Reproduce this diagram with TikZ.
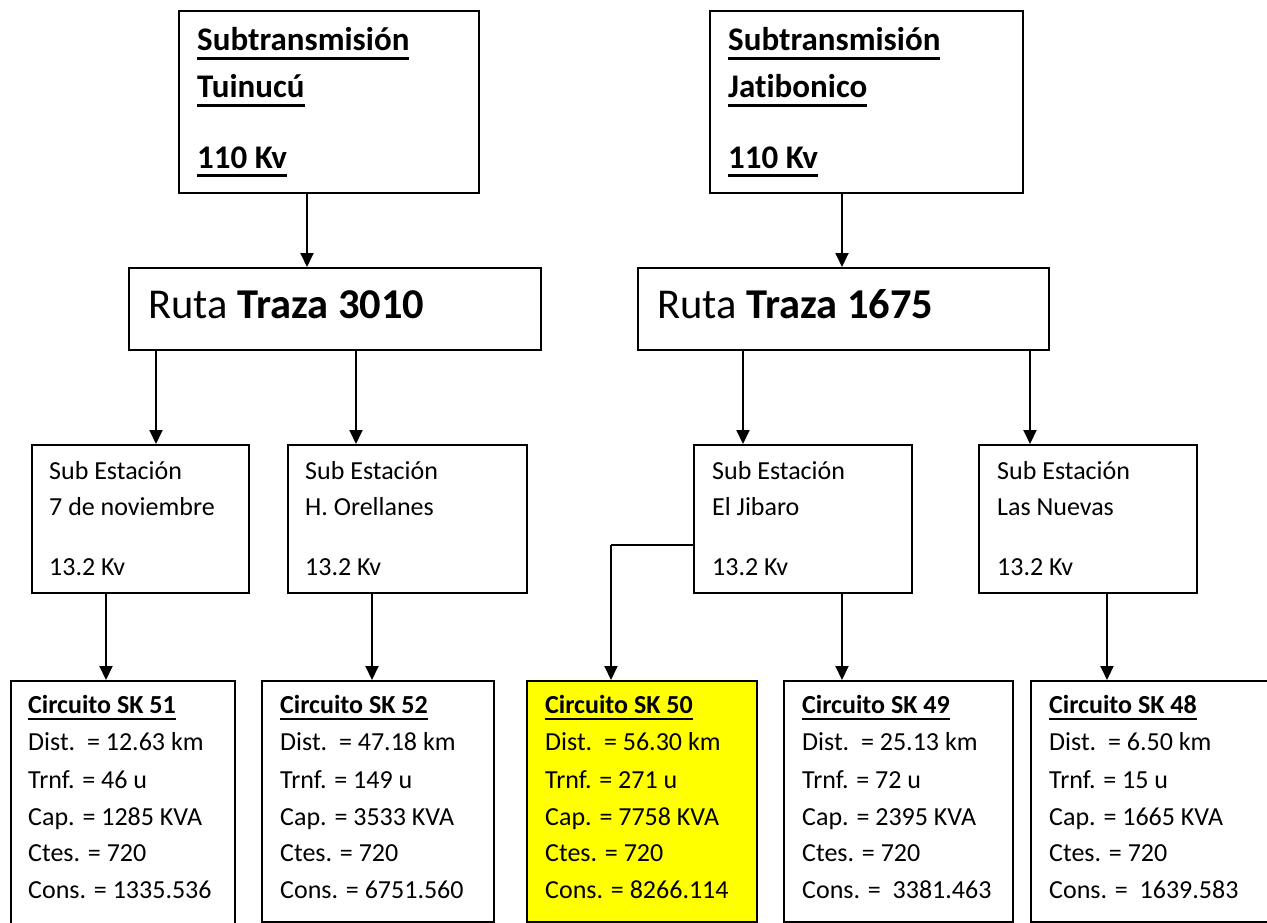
\documentclass[tikz,border=0pt]{standalone}
\usepackage{fontspec}
\setmainfont{Carlito}[Ligatures=NoCommon]
\usetikzlibrary{arrows.meta}
% underline with explicit gap (#1) and thickness (#2)
\newcommand\ulx[3]{\leavevmode\setbox0\hbox{#3}\rlap{\vrule width\wd0 height -#1 depth \dimexpr#1+#2\relax}\box0}
\newcommand\ubig[1]{\ulx{6pt}{3pt}{#1}}
\newcommand\usmall[1]{\ulx{4.5pt}{2.2pt}{#1}}
\begin{document}
\begin{tikzpicture}[x=1pt,y=-1pt,
  box/.style={draw, line width=1.6pt, inner sep=0pt, anchor=north west},
  arr/.style={line width=2pt, -{Triangle[width=13pt,length=14pt]}},
  link/.style={line width=1.8pt},
  big/.style={anchor=base west, inner sep=0pt, font=\fontsize{33}{38}\selectfont\bfseries},
  ruta/.style={anchor=base west, inner sep=0pt, font=\fontsize{42.5}{48}\selectfont},
  txt/.style={anchor=base west, inner sep=0pt, font=\fontsize{26}{30}\selectfont}]
\useasboundingbox (0,0) rectangle (1267,923);
\clip (0,0) rectangle (1267,923);

% transmission sources
\node[box, minimum width=300pt, minimum height=182pt] (t1) at (178,10) {};
\node[box, minimum width=313pt, minimum height=182pt] (t2) at (709,10) {};
\node[big] (t1a) at (197,51) {\ubig{Subtransmisión}};
\node[big] (t1b) at (197,98) {\ubig{Tuinucú}};
\node[big] (t1c) at (197,168) {\ubig{110 Kv}};
\node[big] (t2a) at (728,51) {\ubig{Subtransmisión}};
\node[big] (t2b) at (728,98) {\ubig{Jatibonico}};
\node[big] (t2c) at (728,168) {\ubig{110 Kv}};

% routes
\node[box, minimum width=412pt, minimum height=82pt] (r1) at (128,267) {};
\node[box, minimum width=411pt, minimum height=82pt] (r2) at (637,267) {};
\node[ruta] (r1t) at (148,318) {Ruta \textbf{Traza 3010}};
\node[ruta] (r2t) at (657,318) {Ruta \textbf{Traza 1675}};

% substations
\node[box, minimum width=217pt, minimum height=148pt] (s1) at (31,444) {};
\node[box, minimum width=239pt, minimum height=148pt] (s2) at (287,444) {};
\node[box, minimum width=218pt, minimum height=148pt] (s3) at (693,444) {};
\node[box, minimum width=218pt, minimum height=148pt] (s4) at (978,444) {};
\foreach \n/\x/\name in {1/49/7 de noviembre, 2/305/H. Orellanes, 3/712/El Jibaro, 4/997/Las Nuevas}{
  \node[txt] (s\n a) at (\x,479) {Sub Estación};
  \node[txt] (s\n b) at (\x,515) {\name};
  \node[txt] (s\n c) at (\x,575) {13.2 Kv};
}

% circuits
\node[box, minimum width=224pt, minimum height=260pt] (c1) at (10,680) {};
\node[box, minimum width=232pt, minimum height=241pt] (c2) at (261,680) {};
\node[box, fill={rgb,255:red,255;green,255;blue,0}, minimum width=230pt, minimum height=241pt] (c3) at (526,680) {};
\node[box, minimum width=229pt, minimum height=241pt] (c4) at (783,680) {};
\node[box, minimum width=260pt, minimum height=241pt] (c5) at (1030,680) {};

\foreach \n/\x/\sk/\dist/\tr/\cap/\cons in {
  1/28/51/12.63/46/1285/1335.536,
  2/280/52/47.18/149/3533/6751.560,
  3/545/50/56.30/271/7758/8266.114,
  4/802/49/25.13/72/2395/\ 3381.463,
  5/1049/48/6.50/15/1665/\ 1639.583}{
  \node[txt] (c\n a) at (\x,713) {\usmall{\textbf{Circuito SK \sk}}};
  \node[txt] (c\n b) at (\x,750) {Dist.\ \ = \dist\ km};
  \node[txt] (c\n c) at (\x,788) {Trnf. = \tr\ u};
  \node[txt] (c\n d) at (\x,825) {Cap. = \cap\ KVA};
  \node[txt] (c\n e) at (\x,861) {Ctes. = 720};
  \node[txt] (c\n f) at (\x,898) {Cons. = \cons};
}

% connector columns
\coordinate (x1) at (307,0);
\coordinate (x2) at (842,0);
\coordinate (x3) at (156,0);
\coordinate (x4) at (356,0);
\coordinate (x5) at (743,0);
\coordinate (x6) at (1030,0);
\coordinate (x7) at (106,0);
\coordinate (x8) at (372,0);
\coordinate (x9) at (842,0);
\coordinate (x10) at (1107,0);
\coordinate (e1) at (611,545);

\draw[arr] (t1.south -| x1) -- (r1.north -| x1);
\draw[arr] (t2.south -| x2) -- (r2.north -| x2);
\draw[arr] (r1.south -| x3) -- (s1.north -| x3);
\draw[arr] (r1.south -| x4) -- (s2.north -| x4);
\draw[arr] (r2.south -| x5) -- (s3.north -| x5);
\draw[arr] (r2.south -| x6) -- (s4.north -| x6);
\draw[arr] (s1.south -| x7) -- (c1.north -| x7);
\draw[arr] (s2.south -| x8) -- (c2.north -| x8);
\draw[arr] (s3.south -| x9) -- (c4.north -| x9);
\draw[arr] (s4.south -| x10) -- (c5.north -| x10);
\draw[link] (s3.west |- e1) -- (e1);
\draw[arr] (e1) -- (c3.north -| e1);
\end{tikzpicture}
\end{document}
